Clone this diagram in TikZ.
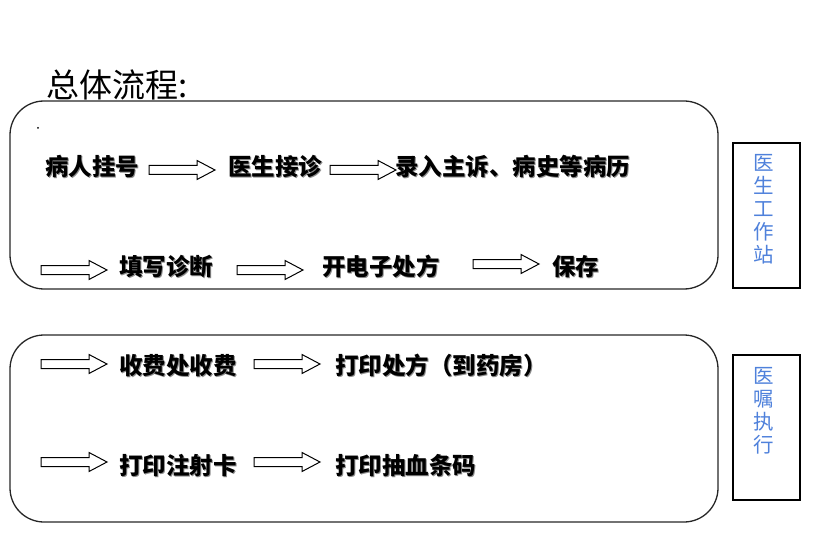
\documentclass[tikz,border=0pt]{standalone}
\usepackage{fontspec}
\setmainfont{Noto Sans CJK SC}
\newfontfamily\cjk{Noto Sans CJK SC}
\definecolor{sideblue}{RGB}{79,129,219}
\newcommand\shd[1]{\makebox[0pt][l]{\raisebox{-0.9pt}{\hspace{0.9pt}\textcolor{black!45}{#1}}}#1}
\tikzset{
  stepbox/.style={draw=black!85,line width=1.3pt,rounded corners=34pt},
  sidebox/.style={draw=black,line width=1.2pt},
  flowtxt/.style={anchor=west,inner sep=0pt,font=\cjk\bfseries\fontsize{23.5}{23.5}\selectfont,text height=0.83em,text depth=0.07em},
  sidetxt/.style={anchor=north,inner sep=0pt,align=center,text=sideblue,font=\cjk\fontsize{20.5}{23}\selectfont},
  blockarr/.pic={\draw[black,line width=1pt,line join=miter] (0,-4.5) -- (48,-4.5) -- (48,-9.5) -- (66,0) -- (48,9.5) -- (48,4.5) -- (0,4.5) -- cycle;}
}
\begin{document}
\begin{tikzpicture}[x=1pt,y=-1pt]
\useasboundingbox (0,0) rectangle (838,556);
% title
\node[anchor=west,inner sep=0pt,font=\cjk\fontsize{33}{33}\selectfont,text height=0.83em,text depth=0.07em] (title) at (46,94) {总体流程:};
% frames
\draw[stepbox] (10,101) rectangle (718,289);
\draw[stepbox] (10,335) rectangle (718,522);
\node[sidebox,minimum width=67pt,minimum height=145pt,inner sep=0pt] (ws) at (766.5,215.5) {};
\node[sidebox,minimum width=67pt,minimum height=145pt,inner sep=0pt] (ex) at (766.5,427.5) {};
\node[sidetxt] (wst) at (764,154) {医\\生\\工\\作\\站};
\node[sidetxt] (ext) at (764,367) {医\\嘱\\执\\行};
\fill (38,128) circle (1pt);
% row 1
\node[flowtxt] (a1) at (45,172) {\shd{病人挂号}};
\pic at (149,170) {blockarr};
\node[flowtxt] (a2) at (228,172) {\shd{医生接诊}};
\pic at (330,170) {blockarr};
\node[flowtxt] (a3) at (395,172) {\shd{录入主诉、病史等病历}};
% row 2
\pic at (41,270) {blockarr};
\node[flowtxt] (b1) at (119,272) {\shd{填写诊断}};
\pic at (237,270) {blockarr};
\node[flowtxt] (b2) at (322,272) {\shd{开电子处方}};
\pic at (473,264) {blockarr};
\node[flowtxt] (b3) at (552,272) {\shd{保存}};
% box 2 row 1
\pic at (41,364) {blockarr};
\node[flowtxt] (c1) at (119,371) {\shd{收费处收费}};
\pic at (254,364) {blockarr};
\node[flowtxt] (c2) at (335,371) {\shd{打印处方（到药房）}};
% box 2 row 2
\pic at (41,462) {blockarr};
\node[flowtxt] (d1) at (119,471) {\shd{打印注射卡}};
\pic at (254,462) {blockarr};
\node[flowtxt] (d2) at (335,471) {\shd{打印抽血条码}};
\end{tikzpicture}
\end{document}
